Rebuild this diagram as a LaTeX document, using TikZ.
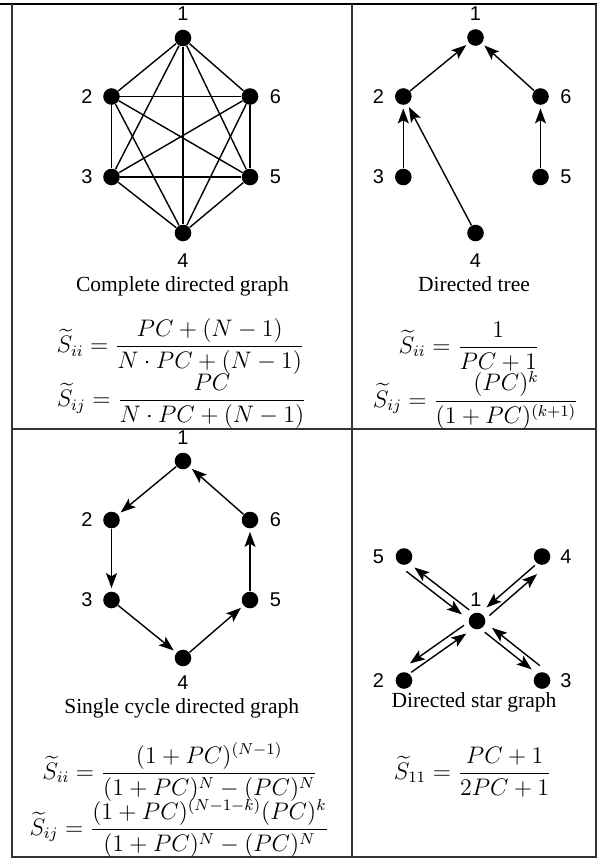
\RequirePackage{fix-cm}
\documentclass[tikz,border=0pt]{standalone}
\usepackage{amsmath}
\usepackage[no-math]{fontspec}
\setmainfont{Liberation Serif}
\newfontfamily\labfont{Liberation Sans}
\usetikzlibrary{arrows.meta,calc}
\begin{document}
\begin{tikzpicture}[x=0.5bp,y=-0.5bp,
  gdot/.style={circle,fill=black,inner sep=0pt,minimum size=8.3bp},
  lab/.style={font=\labfont\fontsize{10}{12}\selectfont,inner sep=0pt},
  captxt/.style={font=\fontsize{10.8}{13}\selectfont,inner sep=0pt,anchor=base},
  frm/.style={font=\fontsize{12}{14.4}\selectfont,inner sep=0pt,anchor=base},
  tblrule/.style={line width=0.6bp,draw=black!80},
  gedge/.style={line width=0.7bp},
  arr/.style={gedge,-{Stealth[length=7.5bp,width=5.5bp,inset=1.6bp]},shorten >=1.6bp},
  sarr/.style={gedge,-{Stealth[length=7.5bp,width=5.5bp,inset=1.6bp]}},
]
\useasboundingbox (0,0) rectangle (610,859);
% frame
\draw[line width=1bp] (0,4) -- (597,4);
\draw[tblrule] (12,4) -- (12,857) -- (596,857) -- (596,4);
\draw[tblrule] (352,4) -- (352,857);
\draw[tblrule] (12,429) -- (596,429);

% ---------- complete graph ----------
\node[gdot] (c1) at (183,38) {};
\node[gdot] (c2) at (111.5,96.5) {};
\node[gdot] (c6) at (250,96.5) {};
\node[gdot] (c3) at (111.5,177) {};
\node[gdot] (c5) at (250,177) {};
\node[gdot] (c4) at (183,233) {};
\foreach \a/\b in {1/2,1/3,1/4,1/5,1/6,2/3,2/4,2/5,2/6,3/4,3/5,3/6,4/5,4/6,5/6}
  \draw[gedge] (c\a) -- (c\b);
\node[lab] (cl1) at (183,14) {1};
\node[lab] (cl2) at (87,97) {2};
\node[lab] (cl6) at (275.5,97) {6};
\node[lab] (cl3) at (87,177) {3};
\node[lab] (cl5) at (275.5,177) {5};
\node[lab] (cl4) at (183,261) {4};
\node[captxt] (ccap) at (182.5,291) {Complete directed graph};
\node[frm] (cf1) at (180.5,352.5) {$\widetilde{S}_{ii} = \dfrac{PC+(N-1)}{N\cdot PC+(N-1)}$};
\node[frm] (cf2) at (181.7,406.5) {$\widetilde{S}_{ij} = \dfrac{PC}{N\cdot PC+(N-1)}$};

% ---------- directed tree ----------
\node[gdot] (t1) at (475.5,37.5) {};
\node[gdot] (t2) at (403.3,96.5) {};
\node[gdot] (t6) at (540.5,96.5) {};
\node[gdot] (t3) at (403.3,177) {};
\node[gdot] (t5) at (540.5,177) {};
\node[gdot] (t4) at (475.5,233) {};
\draw[arr] (t2) -- (t1);
\draw[arr] (t6) -- (t1);
\draw[arr] (t3) -- (t2);
\draw[arr] (t4) -- (t2);
\draw[arr] (t5) -- (t6);
\node[lab] (tl1) at (475.5,14) {1};
\node[lab] (tl2) at (378.3,97) {2};
\node[lab] (tl6) at (566,97) {6};
\node[lab] (tl3) at (378.3,177) {3};
\node[lab] (tl5) at (566,177) {5};
\node[lab] (tl4) at (475.5,261) {4};
\node[captxt] (tcap) at (474,291) {Directed tree};
\node[frm] (tf1) at (469,353.3) {$\widetilde{S}_{ii} = \dfrac{1}{PC+1}$};
\node[frm] (tf2) at (475.8,407) {$\widetilde{S}_{ij} = \dfrac{(PC)^k}{(1+PC)^{(k+1)}}$};

% ---------- single cycle ----------
\node[gdot] (y1) at (183,461) {};
\node[gdot] (y2) at (111.5,520) {};
\node[gdot] (y6) at (250,520) {};
\node[gdot] (y3) at (111.5,600) {};
\node[gdot] (y5) at (250,600) {};
\node[gdot] (y4) at (183,658) {};
\draw[arr] (y1) -- (y2);
\draw[arr] (y2) -- (y3);
\draw[arr] (y3) -- (y4);
\draw[arr] (y4) -- (y5);
\draw[arr] (y5) -- (y6);
\draw[arr] (y6) -- (y1);
\node[lab] (yl1) at (183,437.7) {1};
\node[lab] (yl2) at (87,520) {2};
\node[lab] (yl6) at (275.5,520) {6};
\node[lab] (yl3) at (87,600) {3};
\node[lab] (yl5) at (275.5,600) {5};
\node[lab] (yl4) at (183,682.5) {4};
\node[captxt] (ycap) at (181.7,713) {Single cycle directed graph};
\node[frm] (yf1) at (180,779.3) {$\widetilde{S}_{ii} = \dfrac{(1+PC)^{(N-1)}}{(1+PC)^N-(PC)^N}$};
\node[frm] (yf2) at (179.2,835.3) {$\widetilde{S}_{ij} = \dfrac{(1+PC)^{(N-1-k)}(PC)^k}{(1+PC)^N-(PC)^N}$};

% ---------- star ----------
\node[gdot] (s1) at (477,621) {};
\node[gdot] (s5) at (404,556.5) {};
\node[gdot] (s4) at (542,556.5) {};
\node[gdot] (s2) at (404,680.5) {};
\node[gdot] (s3) at (542,680.5) {};
\coordinate (s5a) at ($(s5)+(0,8)$);
\coordinate (s4a) at ($(s4)+(0,8)$);
\coordinate (s2a) at ($(s2)+(0,-8)$);
\coordinate (s3a) at ($(s3)+(0,-8)$);
\foreach \o in {s2a,s3a,s4a,s5a}{
  \draw[sarr] ($ ($(\o)!3bp!(s1)$)!2bp!-90:(s1) $) -- ($ ($(s1)!8bp!(\o)$)!2bp!90:(\o) $);
  \draw[sarr] ($ ($(s1)!6.5bp!(\o)$)!2bp!-90:(\o) $) -- ($ ($(\o)!5bp!(s1)$)!2bp!90:(s1) $);
}
\node[lab] (sl1) at (476,600) {1};
\node[lab] (sl5) at (378.5,556.5) {5};
\node[lab] (sl4) at (566,556.5) {4};
\node[lab] (sl2) at (378.5,681) {2};
\node[lab] (sl3) at (566,681) {3};
\node[captxt] (scap) at (474,707) {Directed star graph};
\node[frm] (sf1) at (472.7,779.3) {$\widetilde{S}_{11} = \dfrac{PC+1}{2PC+1}$};
\end{tikzpicture}
\end{document}
